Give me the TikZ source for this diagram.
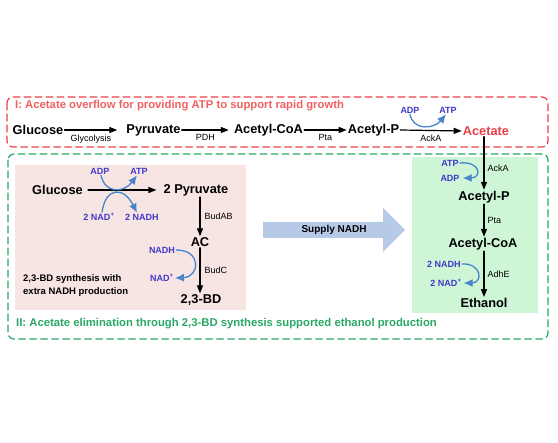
\documentclass[tikz,border=0pt]{standalone}
\usepackage{fontspec}
\setmainfont{Liberation Sans}
\usetikzlibrary{arrows.meta,positioning}
\definecolor{redzone}{RGB}{232,64,72}
\definecolor{redtitle}{RGB}{240,96,96}
\definecolor{greenzone}{RGB}{40,168,100}
\definecolor{pinkfill}{RGB}{247,229,227}
\definecolor{mintfill}{RGB}{206,246,214}
\definecolor{cofblue}{RGB}{64,56,200}
\definecolor{curveblue}{RGB}{70,132,204}
\definecolor{bigarrow}{RGB}{182,202,232}
\tikzset{
  met/.style={font=\bfseries\fontsize{12.8}{14}\selectfont, inner sep=1pt},
  enz/.style={font=\fontsize{9}{10}\selectfont, inner sep=0pt},
  cof/.style={font=\bfseries\fontsize{9}{10}\selectfont, text=cofblue, inner sep=1pt},
  rxn/.style={-{Triangle[length=8pt,width=6pt]}, line width=1.2pt},
  cofarrow/.style={-{Latex[length=9pt,width=8pt]}, line width=1.3pt, draw=curveblue},
  zone/.style={dash pattern=on 7pt off 4pt, line width=1.2pt, rounded corners=6pt}
}
\begin{document}
\begin{tikzpicture}[x=1pt, y=-1pt, line cap=round, line join=round]
		\useasboundingbox (0,0) rectangle (558,443);
		
		% Các vùng nền
		\fill[pinkfill] (15,165) rectangle (246,310);
		\fill[mintfill] (412,157) rectangle (538,313);
		\draw[zone, redzone] (7,97) rectangle (548,147);
		\draw[zone, greenzone] (8,154) rectangle (548,339);
		
		% Tiêu đề
		\node[anchor=west, inner sep=0pt, text=redtitle, font=\bfseries\fontsize{11.3}{12}\selectfont] (title1) at (15,106) {I: Acetate overflow for providing ATP to support rapid growth};
		\node[anchor=west, inner sep=0pt, text=greenzone, font=\bfseries\fontsize{11.3}{12}\selectfont] (title2) at (16,324) {II: Acetate elimination through 2,3-BD synthesis supported ethanol production};
		
		% Hàng I
		\node[met] (glc1) at (38,130) {Glucose};
		\node[met] (pyr1) at (153.5,130) {Pyruvate};
		\node[met] (accoa1) at (268.5,130) {Acetyl-CoA};
		\node[met] (acp1) at (373.5,130) {Acetyl-P};
		\node[met, text=redzone] (ac1) at (486,131) {Acetate};
		\draw[rxn] (glc1.east) -- node[enz, below=4pt] {Glycolysis} ([xshift=-8pt]pyr1.west);
		\draw[rxn] (pyr1.east) -- node[enz, below=4pt] {PDH} ([xshift=-4pt]accoa1.west);
		\draw[rxn] (accoa1.east) -- node[enz, below=4pt] {Pta} (acp1.west);
		\draw[rxn] (acp1.east) -- node[enz, below=4pt] {AckA} (ac1.west);
		\node[cof] (adp1) at (410,110) {ADP};
		\node[cof] (atp1) at (448,110) {ATP};
		\draw[cofarrow] (adp1.south) .. controls (413,131) and (434,129) .. ([xshift=-2pt]atp1.south);
		
		% Vùng hồng: tổng hợp 2,3-BD
		\node[met] (glc2) at (57.5,190) {Glucose};
		\node[met] (pyr2) at (196,190) {2 Pyruvate};
		\draw[rxn] ([xshift=4pt]glc2.east) -- ([xshift=-6pt]pyr2.west);
		\node[cof] (adp2) at (100,171) {ADP};
		\node[cof] (atp2) at (139,171) {ATP};
		\node[cof] (nad2) at (99,217) {2 NAD\textsuperscript{+}};
		\node[cof] (nadh2) at (142,217) {2 NADH};
		\draw[cofarrow] ([xshift=1pt]adp2.south) .. controls (105,194) and (124,193) .. ([xshift=-2pt]atp2.south);
		\draw[cofarrow] ([xshift=3pt]nad2.north) .. controls (106,186) and (124,187) .. ([xshift=-5pt]nadh2.north);
		\node[met] (ac2) at (200,242) {AC};
		\node[met] (bd) at (201,300) {2,3-BD};
		\draw[rxn] (ac2 |- pyr2.south) -- node[enz, right=4pt] {BudAB} (ac2.north);
		\draw[rxn] (ac2.south) -- node[enz, right=4pt] {BudC} (ac2 |- bd.north);
		\node[cof] (nadh3) at (162,250) {NADH};
		\node[cof] (nad3) at (162,278) {NAD\textsuperscript{+}};
		\draw[cofarrow] (nadh3.east) .. controls (202,250) and (200,277) .. (nad3.east);
		\node[anchor=north west, inner sep=0pt, align=left, font=\bfseries\fontsize{9.5}{13}\selectfont] (note) at (23,274) {2,3-BD synthesis with\\extra NADH production};
		
		% Mũi tên lớn
		\fill[bigarrow] (263,222) -- (383,222) -- (383,208) -- (405,230) -- (383,252) -- (383,238) -- (263,238) -- cycle;
		\node[font=\bfseries\fontsize{10}{12}\selectfont, inner sep=0pt] (supply) at (334,230) {Supply NADH};
		
		% Vùng xanh: tạo ethanol
		\node[met] (acp2) at (484,197) {Acetyl-P};
		\node[met] (accoa2) at (483,244) {Acetyl-CoA};
		\node[met] (etoh) at (484,303) {Ethanol};
		\draw[rxn] (ac1.south -| acp2.north) -- node[enz, pos=0.6, right=3pt] {AckA} (acp2.north);
		\draw[rxn] (acp2.south) -- node[enz, right=3pt] {Pta} (acp2.south |- accoa2.north);
		\draw[rxn] (acp2.south |- accoa2.south) -- node[enz, right=3pt] {AdhE} (etoh.north);
		\node[cof] (atp3) at (450,163) {ATP};
		\node[cof] (adp3) at (450,178) {ADP};
		\draw[cofarrow] (atp3.east) .. controls (481,161) and (482,178) .. ([xshift=2pt]adp3.east);
		\node[cof] (nadh4) at (444,264) {2 NADH};
		\node[cof] (nad4) at (446,283) {2 NAD\textsuperscript{+}};
		\draw[cofarrow] (nadh4.east) .. controls (482,263) and (483,283) .. ([xshift=1pt]nad4.east);
\end{tikzpicture}
\end{document}
